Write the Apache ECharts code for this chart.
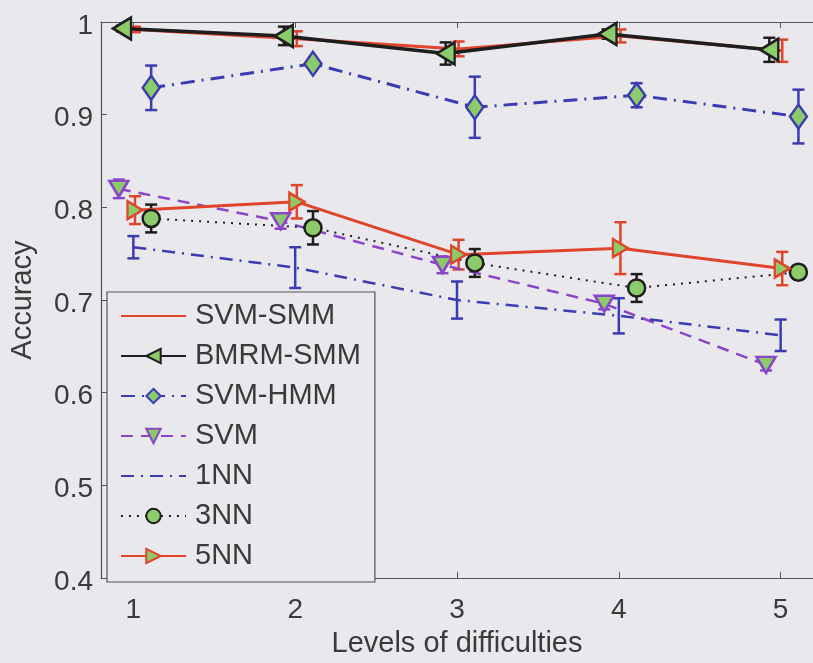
<!DOCTYPE html>
<html>
<head>
<meta charset="utf-8">
<script src="https://cdn.jsdelivr.net/npm/echarts@6/dist/echarts.min.js"></script>
<style>
  html, body { margin: 0; padding: 0; background: #e9e9ed; }
  #chart { width: 813px; height: 663px; }
</style>
</head>
<body>
<div id="chart"></div>
<script>
// levels of difficulty (x)
const levels = [1, 2, 3, 4, 5]
const yTicks = [0.4, 0.5, 0.6, 0.7, 0.8, 0.9, 1]

// mean accuracy per method
const svmSmm = [0.992, 0.982, 0.971, 0.985, 0.969]
const bmrmSmm = [0.993, 0.985, 0.966, 0.987, 0.970]
const svmHmm = [0.929, 0.955, 0.908, 0.921, 0.898]
const svm = [0.820, 0.785, 0.738, 0.696, 0.630]
const nn1 = [0.757, 0.735, 0.700, 0.683, 0.662]
const nn3 = [0.788, 0.778, 0.740, 0.713, 0.730]
const nn5 = [0.797, 0.806, 0.749, 0.756, 0.734]

// standard deviation (error bar half length)
const svmSmmErr = [0.003, 0.008, 0.008, 0.007, 0.012]
const bmrmSmmErr = [0.003, 0.010, 0.012, 0.005, 0.013]
const svmHmmErr = [0.024, 0.005, 0.033, 0.013, 0.029]
const svmErr = [0.010, 0.008, 0.009, 0.006, 0.006]
const nn1Err = [0.012, 0.022, 0.020, 0.019, 0.017]
const nn3Err = [0.015, 0.018, 0.015, 0.015, 0.007]
const nn5Err = [0.015, 0.018, 0.016, 0.028, 0.018]

// small horizontal shift of each method so the bars don't overlap
const shifts = { 'SVM-SMM': 0.01, 'BMRM-SMM': -0.07, 'SVM-HMM': 0.11, 'SVM': -0.09, '1NN': 0, '3NN': 0.11, '5NN': 0.01 }

const RED = '#e0452c'
const BLACK = '#1e1e1e'
const BLUE = '#3b3bb3'
const PURPLE = '#8a45c9'
const GREEN = '#8ccb6a'
const FONT = 'Liberation Sans, Arial, sans-serif'
const TXT = '#3a3a3a'
const BG = '#e9e9ed'

const methods = [
  { name: 'SVM-SMM', mean: svmSmm, err: svmSmmErr, color: RED, width: 3, dash: 'solid', symbol: 'none' },
  { name: 'BMRM-SMM', mean: bmrmSmm, err: bmrmSmmErr, color: BLACK, width: 3.5, dash: 'solid', symbol: 'triangle', rotate: 90, size: [22, 18] },
  { name: 'SVM-HMM', mean: svmHmm, err: svmHmmErr, color: BLUE, width: 3, dash: [14, 7, 2, 7], symbol: 'diamond', size: [17, 24] },
  { name: 'SVM', mean: svm, err: svmErr, color: PURPLE, width: 2.5, dash: [12, 8], symbol: 'triangle', rotate: 180, size: [19, 16] },
  { name: '1NN', mean: nn1, err: nn1Err, color: BLUE, width: 2.5, dash: [13, 7, 2, 7], symbol: 'none' },
  { name: '3NN', mean: nn3, err: nn3Err, color: BLACK, width: 2, dash: [2, 6], symbol: 'circle', size: 17 },
  { name: '5NN', mean: nn5, err: nn5Err, color: RED, width: 3, dash: 'solid', symbol: 'triangle', rotate: -90, size: [18, 15] }
]

const series = []
methods.forEach(m => {
  const dx = shifts[m.name]
  // error bars
  series.push({
    name: m.name + ' err',
    type: 'custom',
    z: 2,
    silent: true,
    data: levels.map((x, i) => [x + dx, m.mean[i] - m.err[i], m.mean[i] + m.err[i]]),
    renderItem: (params, api) => {
      const lo = api.coord([api.value(0), api.value(1)])
      const hi = api.coord([api.value(0), api.value(2)])
      const cap = 6
      const style = { stroke: m.color, lineWidth: 2.5 }
      return {
        type: 'group',
        children: [
          { type: 'line', shape: { x1: lo[0], y1: lo[1], x2: hi[0], y2: hi[1] }, style },
          { type: 'line', shape: { x1: lo[0] - cap, y1: lo[1], x2: lo[0] + cap, y2: lo[1] }, style },
          { type: 'line', shape: { x1: hi[0] - cap, y1: hi[1], x2: hi[0] + cap, y2: hi[1] }, style }
        ]
      }
    }
  })
  // mean line + markers
  series.push({
    name: m.name,
    type: 'line',
    z: 3,
    data: levels.map((x, i) => [x + dx, m.mean[i]]),
    symbol: m.symbol,
    symbolSize: m.size || 0,
    symbolRotate: m.rotate || 0,
    showAllSymbol: true,
    lineStyle: { color: m.color, width: m.width, type: m.dash },
    itemStyle: { color: GREEN, borderColor: m.color, borderWidth: 2.5 },
    emphasis: { disabled: true }
  })
})

// legend entries; methods without markers get an invisible legend symbol
const legendData = methods.map(m => m.symbol === 'none'
  ? { name: m.name, itemStyle: { color: 'rgba(0,0,0,0)', borderColor: 'rgba(0,0,0,0)', borderWidth: 0 } }
  : { name: m.name })

const chart = echarts.init(document.getElementById('chart'))
chart.setOption({
  animation: false,
  backgroundColor: BG,
  textStyle: { fontFamily: FONT },
  grid: { left: 99, right: -3, top: 22, bottom: 76 },
  xAxis: [{
    type: 'value',
    min: 0.8,
    max: 5.2,
    interval: 1,
    name: 'Levels of difficulties',
    nameLocation: 'middle',
    nameGap: 50,
    nameTextStyle: { fontSize: 29, color: TXT, fontFamily: FONT },
    axisLine: { lineStyle: { color: '#555', width: 1.2 } },
    axisTick: { inside: true, length: 6, lineStyle: { color: '#555' }, customValues: levels },
    axisLabel: { fontSize: 28, color: TXT, margin: 18, customValues: levels },
    splitLine: { show: false }
  }, {
    type: 'value',
    position: 'top',
    min: 0.8,
    max: 5.2,
    axisLine: { show: true, lineStyle: { color: '#555', width: 1.2 } },
    axisTick: { inside: true, length: 6, lineStyle: { color: '#555' }, customValues: levels },
    axisLabel: { show: false },
    splitLine: { show: false }
  }],
  yAxis: {
    type: 'value',
    min: 0.4,
    max: 1,
    interval: 0.1,
    name: 'Accuracy',
    nameLocation: 'middle',
    nameGap: 64,
    nameTextStyle: { fontSize: 29, color: TXT, fontFamily: FONT },
    axisLine: { show: true, lineStyle: { color: '#555', width: 1.2 } },
    axisTick: { inside: true, length: 6, lineStyle: { color: '#555' } },
    axisLabel: { fontSize: 28, color: TXT, margin: 8, verticalAlign: 'top', lineHeight: 8, customValues: yTicks },
    splitLine: { show: false }
  },
  legend: {
    data: legendData,
    orient: 'vertical',
    left: 107,
    top: 292,
    padding: [9, 14, 11, 13],
    itemGap: 10,
    itemWidth: 65,
    itemHeight: 18,
    backgroundColor: BG,
    borderColor: '#555',
    borderWidth: 1.2,
    borderRadius: 0,
    selectedMode: false,
    textStyle: { fontSize: 29, lineHeight: 30, color: TXT, fontFamily: FONT, padding: [0, 0, 0, 4] }
  },
  series
})
</script>
</body>
</html>
